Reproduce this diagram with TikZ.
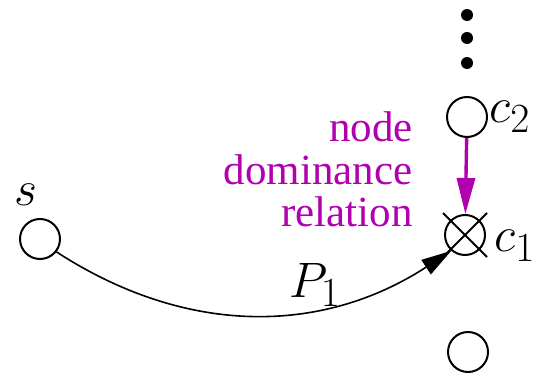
\documentclass[tikz,border=0pt]{standalone}
\usepackage[no-math]{fontspec}
\newfontfamily\relfont{Liberation Serif}[Scale=1]
\usepackage{tikz}
\usetikzlibrary{arrows.meta,positioning}
\definecolor{dompurple}{RGB}{176,0,176}

\begin{document}
\begin{tikzpicture}[
  x=0.5pt, y=0.5pt,
  vtx/.style={draw, circle, line width=1pt, minimum size=20pt, inner sep=0pt},
  dot/.style={fill, circle, minimum size=6pt, inner sep=0pt},
  lbl/.style={inner sep=0pt, font=\fontsize{24.88}{30}\selectfont},
  rel/.style={inner sep=0pt, align=right, text=dompurple, font=\fontsize{21.5}{21.25}\relfont},
  arr/.style={-{Triangle[length=15pt, width=8.5pt]}, line width=0.8pt},
  dom/.style={-{Triangle[length=18pt, width=9pt]}, line width=1.7pt, draw=dompurple}
]
\useasboundingbox (0,0) rectangle (533,374);
% vertices
\node[vtx] (s) at (40,135) {};
\node[vtx] (c1) at (465,139) {};
\node[vtx] (c2) at (467,257) {};
\node[vtx] (c0) at (468,22) {};
% dots above c2
\node[dot] (d1) at (467,359) {};
\node[dot] (d2) at (467,336) {};
\node[dot] (d3) at (467,311) {};
% cross on c1
\draw[line width=1pt] ([shift={(-22,22)}]c1.center) -- ([shift={(22,-22)}]c1.center);
\draw[line width=1pt] ([shift={(-22,-22)}]c1.center) -- ([shift={(22,22)}]c1.center);
% labels
\node[lbl, anchor=base west] (ls) at (14,168) {$s$};
\node[lbl, anchor=base west] (lc2) at (489,251) {$c_2$};
\node[lbl, anchor=base west] (lc1) at (494,122) {$c_1$};
\node[lbl, anchor=base west] (lp) at (289,77) {$P_1$};
\node[rel, anchor=base east] (rl) at (413,147) {node\\dominance\\relation};
% connectors
\draw[arr] (s.-38) to[out=-33, in=213] (c1.229);
\draw[dom] (c2) -- (c1);
\end{tikzpicture}
\end{document}
